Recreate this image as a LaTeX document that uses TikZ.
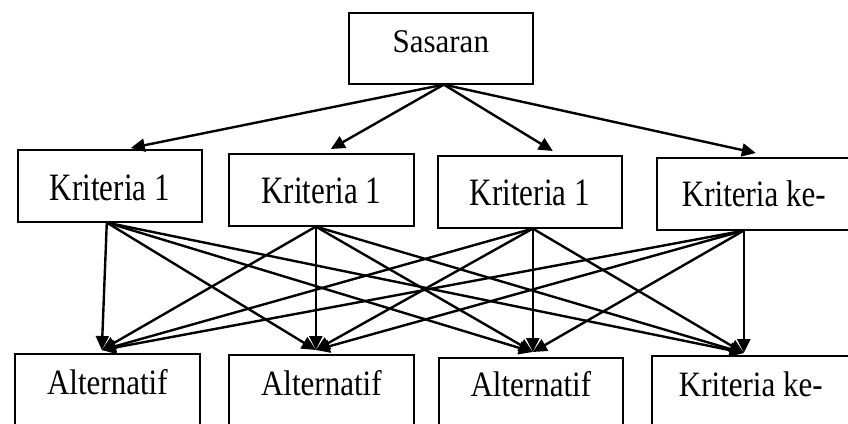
\documentclass[tikz,border=0pt]{standalone}
\usepackage{fontspec}
\usepackage{graphicx}
\setmainfont{Liberation Serif}
\usetikzlibrary{arrows.meta}
% vertically stretched label
\newcommand\stretchtext[2]{\scalebox{1}[#1]{#2}}
\begin{document}
\begin{tikzpicture}[x=1pt,y=-1pt,
  box/.style={draw,line width=1.6pt,inner sep=0pt,anchor=north west,
    font=\fontsize{31}{36}\selectfont},
  link/.style={line width=2.4pt,-{Triangle[length=14pt,width=13pt]}}]
\clip (0,0) rectangle (848,423);

% goal
\node[box,minimum width=184pt,text height=40pt,text depth=31pt] (goal) at (348,12) {\stretchtext{1.07}{Sasaran}};

% criteria
\node[box,minimum width=184pt,text height=51pt,text depth=21pt] (k1) at (17,149) {\stretchtext{1.25}{Kriteria 1}};
\node[box,minimum width=185pt,text height=50pt,text depth=22pt] (k2) at (228,153) {\stretchtext{1.25}{Kriteria 1}};
\node[box,minimum width=184pt,text height=50pt,text depth=22pt] (k3) at (437,155) {\stretchtext{1.25}{Kriteria 1}};
\node[box,minimum width=194pt,text height=49pt,text depth=23pt] (k4) at (656,157) {\stretchtext{1.2}{Kriteria ke-}};

% alternatives
\node[box,minimum width=185pt,text height=41pt,text depth=60pt] (a1) at (14,353) {\stretchtext{1.15}{Alternatif}};
\node[box,minimum width=185pt,text height=41pt,text depth=60pt] (a2) at (228,354) {\stretchtext{1.15}{Alternatif}};
\node[box,minimum width=184pt,text height=39pt,text depth=60pt] (a3) at (438,357) {\stretchtext{1.15}{Alternatif}};
\node[box,minimum width=198pt,text height=41pt,text depth=60pt] (a4) at (651,355) {\stretchtext{1.15}{Kriteria ke-}};

% connection points
\coordinate (g-out) at ([xshift=3pt]goal.south);
\coordinate (k1-in) at ([xshift=21pt,yshift=1pt]k1.north);
\coordinate (k2-in) at ([xshift=9.5pt,yshift=4pt]k2.north);
\coordinate (k3-in) at ([xshift=23pt,yshift=4pt]k3.north);
\coordinate (k4-in) at ([xshift=2pt,yshift=4pt]k4.north);
\coordinate (k1-out) at ([xshift=-3pt]k1.south);
\coordinate (k2-out) at ([xshift=-5.5pt]k2.south);
\coordinate (k3-out) at ([xshift=3pt]k3.south);
\coordinate (k4-out) at ([xshift=-10pt]k4.south);
\coordinate (a1-in) at ([xshift=-5.5pt,yshift=3pt]a1.north);
\coordinate (a2-in) at ([xshift=-5.5pt,yshift=4pt]a2.north);
\coordinate (a3-in) at ([xshift=2pt,yshift=5pt]a3.north);
\coordinate (a4-in) at ([xshift=-7pt,yshift=2pt]a4.north);

% goal to criteria
\foreach \k in {1,...,4}
  \draw[link] (g-out) -- (k\k-in);

% every criterion to every alternative
\foreach \k in {1,...,4}
  \foreach \a in {1,...,4}
    \draw[link] (k\k-out) -- (a\a-in);
\end{tikzpicture}
\end{document}
